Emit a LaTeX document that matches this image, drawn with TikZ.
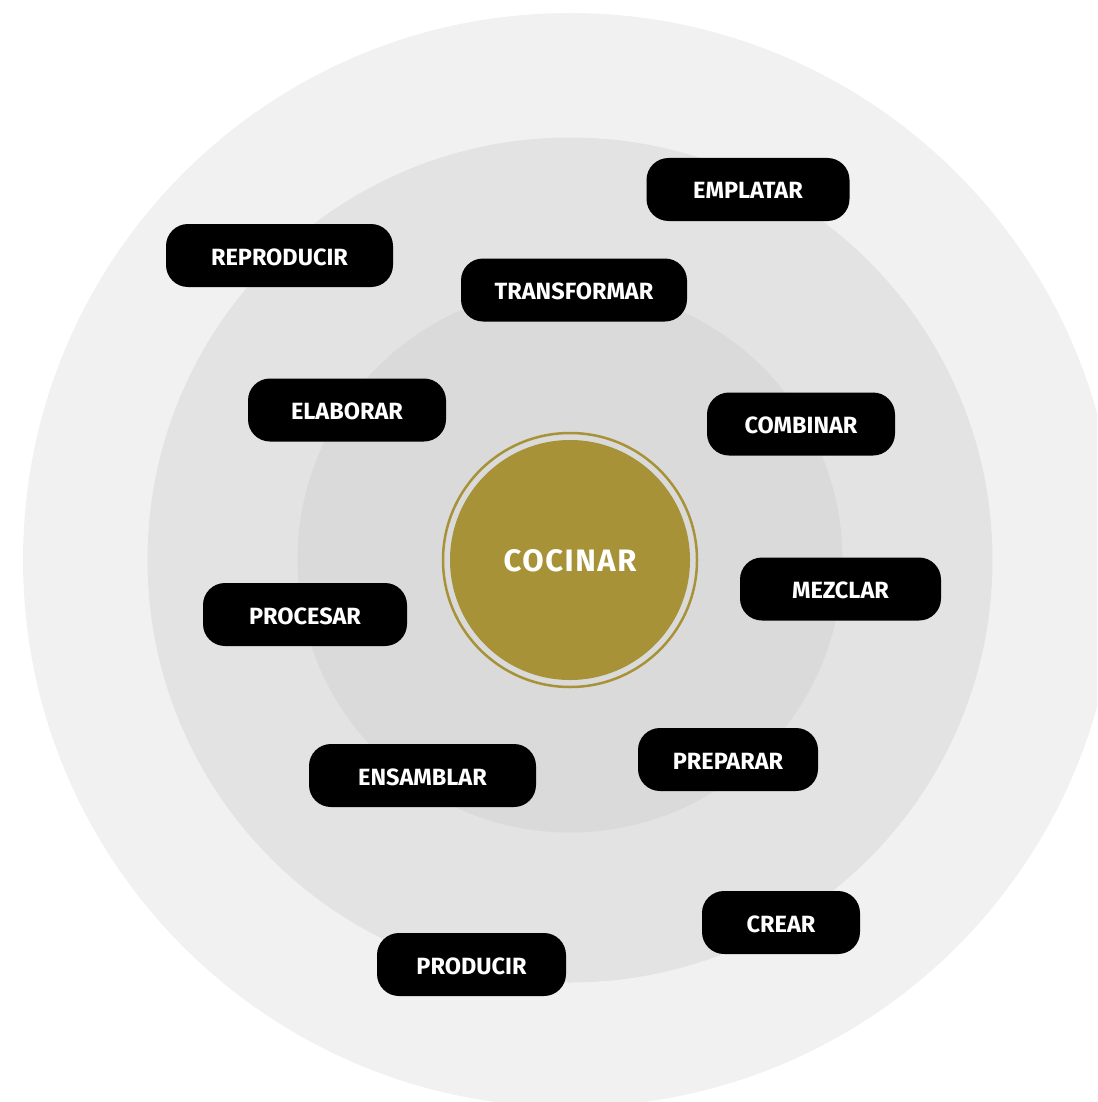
\documentclass[tikz,border=0pt]{standalone}
\usepackage{fontspec}
\newfontfamily\labelfont{Fira Sans}
\newfontfamily\hubfont{Fira Sans}[LetterSpace=5]
\definecolor{ringouter}{RGB}{241,241,241}
\definecolor{ringmid}{RGB}{227,227,227}
\definecolor{ringinner}{RGB}{218,218,218}
\definecolor{gold}{RGB}{167,146,55}
\tikzset{
  pill/.style={fill=black, rounded corners=22pt, text=white,
    font=\labelfont\bfseries\fontsize{23.5}{23.5}\selectfont,
    minimum height=63pt, inner sep=0pt, text height=19pt, text depth=0pt},
  hub/.style={circle, fill=gold, minimum size=240pt, inner sep=0pt, text=white,
    font=\hubfont\bfseries\fontsize{31}{31}\selectfont,
    text height=23pt, text depth=0pt}
}
\begin{document}
\begin{tikzpicture}[x=1pt, y=-1pt]
  \useasboundingbox (0,0) rectangle (1097,1102);
  \clip (0,0) rectangle (1097,1102);
  % concentric background bands
  \fill[ringouter] (570,560) circle (547);
  \fill[ringmid]   (570,560) circle (422.5);
  \fill[ringinner] (570,560) circle (272.5);
  % central hub with its thin outer ring
  \draw[gold, line width=2.5pt] (570,560) circle (127);
  \node[hub] (cocinar) at (570,560) {COCINAR};
  % action labels
  \node[pill, minimum width=203pt] (emplatar)     at (748,189.5) {EMPLATAR};
  \node[pill, minimum width=227pt] (reproducir)   at (279.5,255.5) {REPRODUCIR};
  \node[pill, minimum width=226pt] (transformar)  at (574,290) {TRANSFORMAR};
  \node[pill, minimum width=198pt] (elaborar)     at (347,410) {ELABORAR};
  \node[pill, minimum width=188pt] (combinar)     at (801,424) {COMBINAR};
  \node[pill, minimum width=201pt] (mezclar)      at (840.5,589) {MEZCLAR};
  \node[pill, minimum width=204pt] (procesar)     at (305,614.5) {PROCESAR};
  \node[pill, minimum width=227pt] (ensamblar)    at (422.5,775.5) {ENSAMBLAR};
  \node[pill, minimum width=180pt] (preparar)     at (728,759.5) {PREPARAR};
  \node[pill, minimum width=158pt] (crear)        at (781,922.5) {CREAR};
  \node[pill, minimum width=189pt] (producir)     at (471.5,964.5) {PRODUCIR};
\end{tikzpicture}
\end{document}
